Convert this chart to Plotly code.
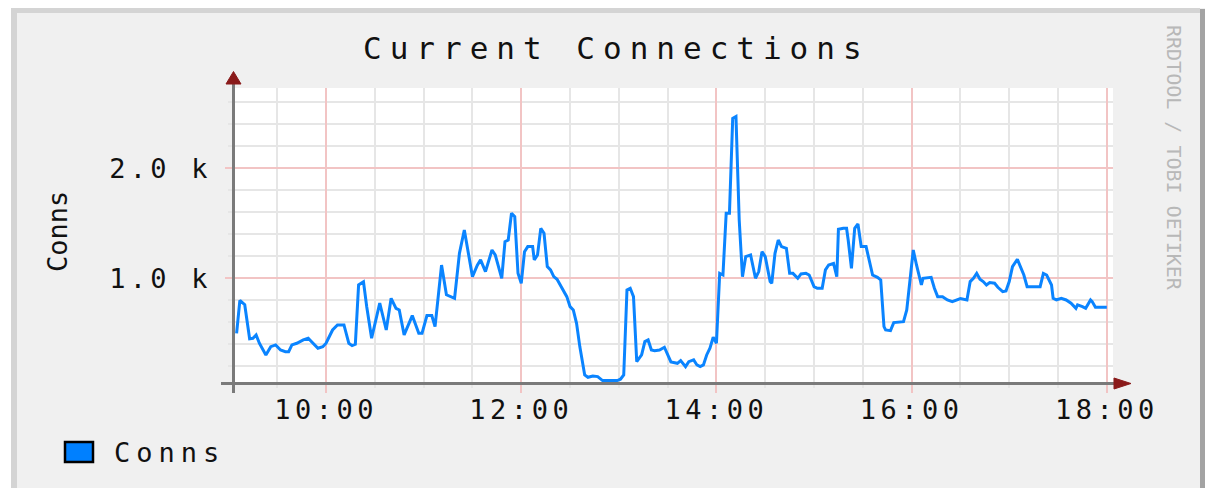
import plotly.graph_objects as go
import pandas as pd

# ---------------- data ----------------
minutes_after_9 = [5, 7, 10, 13, 15, 17, 19, 23, 26, 29, 32, 35, 37, 39, 42, 46, 49, 52, 55, 58,
                   60, 64, 67, 71, 74, 76, 78, 80, 83, 85, 88, 93, 97, 100, 103, 105, 108, 113, 117, 119,
                   122, 125, 127, 131, 134, 139, 142, 145, 150, 153, 155, 158, 162, 164, 168, 170, 172, 174, 176, 178,
                   180, 182, 184, 187, 188, 190, 192, 194, 196, 198, 200, 202, 204, 206, 208, 210, 212, 214, 216, 219,
                   221, 224, 227, 230, 233, 236, 239, 241, 243, 245, 247, 249, 251, 254, 256, 258, 260, 262, 265, 268,
                   270, 272, 276, 278, 281, 283, 286, 288, 290, 292, 294, 296, 298, 300, 302, 304, 306, 308, 310, 312,
                   314, 316, 318, 321, 324, 326, 328, 330, 333, 334, 336, 338, 340, 343, 345, 347, 350, 352, 355, 357,
                   360, 362, 365, 367, 369, 372, 374, 375, 378, 380, 381, 383, 385, 387, 389, 392, 396, 399, 401, 403,
                   404, 407, 409, 413, 415, 417, 419, 421, 423, 426, 427, 430, 432, 434, 436, 439, 442, 445, 448, 450,
                   454, 456, 458, 460, 462, 464, 466, 468, 471, 473, 476, 478, 480, 482, 485, 487, 489, 491, 494, 499,
                   501, 503, 506, 507, 509, 512, 515, 518, 521, 522, 525, 527, 530, 531, 533, 537, 540]
conns = [500, 800, 760, 450, 455, 485, 410, 303, 378, 394, 348, 333, 333, 394, 409, 440, 455, 409, 364, 378,
         410, 530, 576, 576, 409, 388, 400, 940, 969, 742, 455, 775, 530, 818, 727, 712, 485, 661, 500, 500,
         661, 661, 560, 1120, 850, 818, 1227, 1439, 1015, 1120, 1167, 1060, 1257, 1212, 1000, 1333, 1348, 1591, 1560, 1045,
         955, 1242, 1288, 1288, 1167, 1212, 1454, 1409, 1106, 1076, 1015, 991, 939, 894, 833, 742, 712, 591, 379, 121,
         100, 112, 106, 70, 70, 76, 70, 82, 121, 894, 909, 833, 242, 303, 424, 439, 348, 342, 348, 373,
         303, 240, 227, 252, 197, 242, 258, 212, 197, 212, 303, 364, 464, 409, 1045, 1030, 1591, 1591, 2454, 2470,
         1530, 1015, 1197, 1212, 1000, 1061, 1242, 1197, 970, 955, 1227, 1348, 1288, 1273, 1045, 1045, 1000, 1040, 1045, 1030,
         924, 909, 909, 1076, 1121, 1136, 1015, 1445, 1454, 1454, 1348, 1091, 1454, 1494, 1288, 1288, 1030, 1009, 985, 560,
         530, 524, 597, 606, 606, 712, 1000, 1257, 1121, 939, 1000, 1009, 1009, 909, 833, 833, 803, 788, 803, 815,
         803, 970, 1000, 1045, 991, 970, 939, 961, 955, 918, 879, 885, 970, 1106, 1173, 1106, 1030, 924, 924, 924,
         1045, 1030, 939, 818, 803, 818, 803, 773, 727, 758, 742, 727, 803, 788, 736, 736, 736]
x_tick_labels = ["10:00", "12:00", "14:00", "16:00", "18:00"]
y_tick_vals = [1000, 2000]
y_tick_labels = ["1.0 k", "2.0 k"]
series_name = "Conns"
title_text = "Current Connections"
y_title = "Conns"
watermark = "RRDTOOL / TOBI OETIKER"
day = "2024-01-01"

base = pd.Timestamp(day + " 09:00")
times = (base + pd.to_timedelta(minutes_after_9, unit="m")).strftime("%Y-%m-%d %H:%M:%S").tolist()
x_tick_vals = [day + " " + t for t in x_tick_labels]

# ---------------- geometry helpers ----------------
W, H = 1205, 488
ML, MR, MT, MB = 234, 92, 88, 105
PW, PH = W - ML - MR, H - MT - MB


def px(x):
    return (x - ML) / PW


def py(y):
    return (H - MB - y) / PH


def spaced(t, s):
    return '<span style="letter-spacing:%gpx">%s</span>' % (s, t)


MONO = "DejaVu Sans Mono"
GRID = "#e6e6e6"
MGRID = "#f2c4c4"
AXIS = "#7a7a7a"
ARROW = "#8a1a1a"
BLUE = "#0a84ff"

fig = go.Figure()
fig.add_trace(go.Scatter(x=times, y=conns, mode="lines", name=series_name,
                         line=dict(color=BLUE, width=3), showlegend=False,
                         hoverinfo="skip"))

shapes = []
# frame
shapes.append(dict(type="rect", xref="paper", yref="paper", x0=px(0), x1=px(11), y0=py(0), y1=py(H),
                   fillcolor="white", line_width=0, layer="above"))
shapes.append(dict(type="rect", xref="paper", yref="paper", x0=px(0), x1=px(W), y0=py(0), y1=py(8),
                   fillcolor="white", line_width=0, layer="above"))
shapes.append(dict(type="rect", xref="paper", yref="paper", x0=px(11), x1=px(17), y0=py(8), y1=py(H),
                   fillcolor="#d4d4d4", line_width=0, layer="above"))
shapes.append(dict(type="rect", xref="paper", yref="paper", x0=px(11), x1=px(1200), y0=py(8), y1=py(13),
                   fillcolor="#d4d4d4", line_width=0, layer="above"))
shapes.append(dict(type="rect", xref="paper", yref="paper", x0=px(1200), x1=px(W), y0=py(9), y1=py(H),
                   fillcolor="#a3a3a3", line_width=0, layer="above"))
# axes
shapes.append(dict(type="line", xref="paper", yref="paper", x0=px(233.5), x1=px(233.5), y0=py(393), y1=py(84),
                   line=dict(color=AXIS, width=3), layer="above"))
shapes.append(dict(type="line", xref="paper", yref="paper", x0=px(221), x1=px(1115), y0=py(383.5), y1=py(383.5),
                   line=dict(color=AXIS, width=3), layer="above"))
# arrows
shapes.append(dict(type="path", xref="paper", yref="paper",
                   path="M %f,%f L %f,%f L %f,%f Z" % (px(233.5), py(71.5), px(226), py(84), px(241), py(84)),
                   fillcolor=ARROW, line=dict(color=ARROW, width=1), layer="above"))
shapes.append(dict(type="path", xref="paper", yref="paper",
                   path="M %f,%f L %f,%f L %f,%f Z" % (px(1131), py(383.5), px(1114), py(378), px(1114), py(389)),
                   fillcolor=ARROW, line=dict(color=ARROW, width=1), layer="above"))
# legend box
shapes.append(dict(type="rect", xref="paper", yref="paper", x0=px(65), x1=px(93), y0=py(462), y1=py(442),
                   fillcolor="#0080ff", line=dict(color="black", width=2.5), layer="above"))

annotations = [
    dict(x=px(616), y=py(48), xref="paper", yref="paper", text=spaced(title_text, 8), showarrow=False,
         xanchor="center", yanchor="middle", font=dict(family=MONO, size=31, color="#111")),
    dict(x=px(57), y=py(232), xref="paper", yref="paper", text=y_title, showarrow=False, textangle=-90,
         xanchor="center", yanchor="middle", font=dict(family=MONO, size=27, color="#111")),
    dict(x=px(1174), y=py(158), xref="paper", yref="paper", text=watermark, showarrow=False, textangle=90,
         xanchor="center", yanchor="middle", font=dict(family=MONO, size=20, color="#b8b8b8")),
    dict(x=px(112), y=py(452), xref="paper", yref="paper", text=spaced(series_name, 6), showarrow=False,
         xanchor="left", yanchor="middle", font=dict(family=MONO, size=27, color="#111")),
]

fig.update_layout(
    width=W, height=H, margin=dict(l=ML, r=MR, t=MT, b=MB, pad=0),
    paper_bgcolor="#f0f0f0", plot_bgcolor="white",
    shapes=shapes, annotations=annotations, showlegend=False,
    xaxis=dict(type="date", range=[day + " 09:03:24", day + " 18:03:48"],
               tickmode="array", tickvals=x_tick_vals, ticktext=[spaced(t, 4.5) for t in x_tick_labels],
               ticks="outside", ticklen=9, tickwidth=2, tickcolor=MGRID,
               showgrid=True, gridcolor=MGRID, gridwidth=2, zeroline=False, showline=False,
               ticklabelstandoff=-6,
               tickfont=dict(family=MONO, size=27, color="#111"),
               minor=dict(tickmode="linear", tick0=day + " 00:00", dtick=30 * 60 * 1000,
                          ticks="outside", ticklen=4, tickwidth=2, tickcolor=GRID,
                          showgrid=True, gridcolor=GRID, gridwidth=2)),
    yaxis=dict(range=[48, 2730], tickmode="array", tickvals=y_tick_vals,
               ticktext=[spaced(t, 4.2) for t in y_tick_labels],
               ticks="outside", ticklen=8, tickwidth=2, tickcolor=MGRID,
               showgrid=True, gridcolor=MGRID, gridwidth=2, zeroline=False, showline=False,
               ticklabelstandoff=8,
               tickfont=dict(family=MONO, size=27, color="#111"),
               minor=dict(tickmode="linear", tick0=0, dtick=200,
                          ticks="outside", ticklen=5, tickwidth=2, tickcolor=GRID,
                          showgrid=True, gridcolor=GRID, gridwidth=2)),
)

fig.write_html("out.html", config={"displayModeBar": False},
               post_script="document.body.style.margin='0';document.body.style.overflow='hidden';")
